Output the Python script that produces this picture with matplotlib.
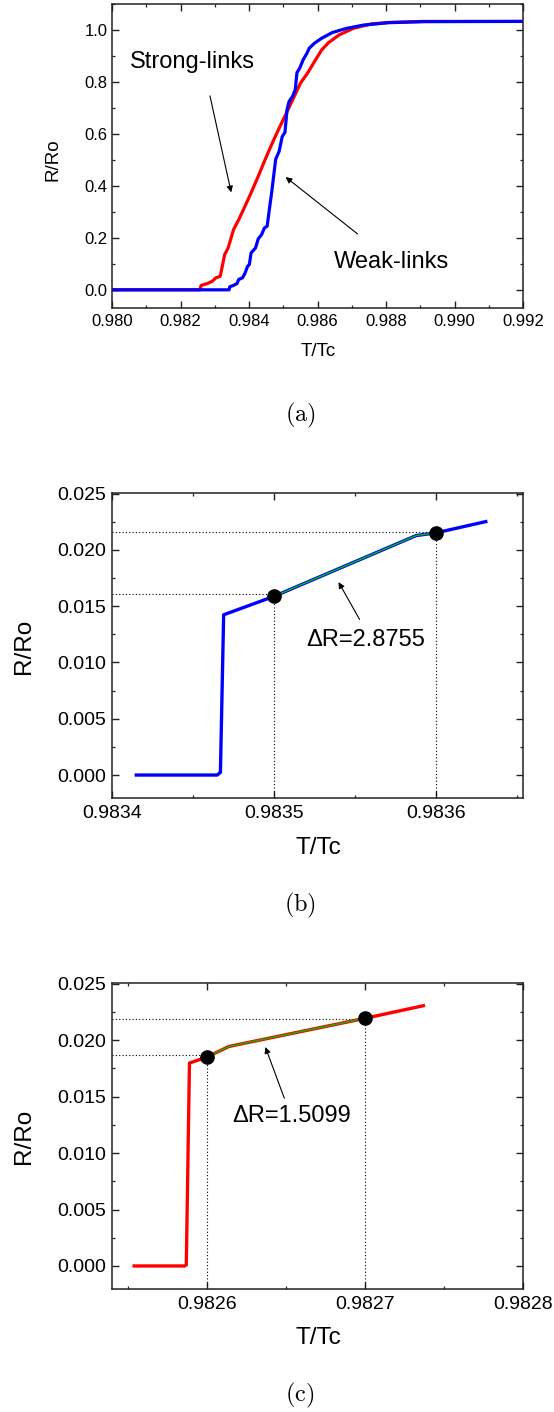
import matplotlib
matplotlib.use("Agg")
import matplotlib.pyplot as plt
from matplotlib.ticker import MultipleLocator, FormatStrFormatter

plt.rcParams['font.family'] = ['Liberation Sans', 'DejaVu Sans']
plt.rcParams['mathtext.fontset'] = 'cm'

# ---------------- data ----------------
# (a) full transition, strong links (red) and weak links (blue)
strong_t = [0.9800, 0.98257, 0.98260, 0.98278, 0.98293, 0.98303, 0.98316, 0.98322,
            0.98329, 0.98339, 0.98355, 0.98370, 0.98386, 0.98406, 0.98427, 0.98447,
            0.98468, 0.98488, 0.98509, 0.98530, 0.98550, 0.98571, 0.98591, 0.98612,
            0.98632, 0.98663, 0.98704, 0.98756, 0.98807, 0.98910, 0.9920]
strong_r = [0.0, 0.0, 0.017, 0.024, 0.033, 0.046, 0.052, 0.091,
            0.136, 0.161, 0.232, 0.270, 0.315, 0.373, 0.437, 0.501,
            0.565, 0.622, 0.680, 0.738, 0.795, 0.834, 0.878, 0.923,
            0.951, 0.981, 1.006, 1.023, 1.029, 1.033, 1.033]

weak_t = [0.9800, 0.98342, 0.98344, 0.98355, 0.98365, 0.98370, 0.98381, 0.98388,
          0.98396, 0.98401, 0.98406, 0.98419, 0.98427, 0.98437, 0.98445, 0.98453,
          0.98460, 0.98466, 0.98473, 0.98478, 0.98488, 0.98497, 0.98505, 0.98511,
          0.98517, 0.98527, 0.98535, 0.98540, 0.98548, 0.98558, 0.98569, 0.98576,
          0.98591, 0.98612, 0.98643, 0.98684, 0.98735, 0.98807, 0.98910, 0.9920]
weak_r = [0.0, 0.0, 0.012, 0.017, 0.024, 0.040, 0.046, 0.063,
          0.091, 0.097, 0.142, 0.161, 0.196, 0.213, 0.238, 0.245,
          0.315, 0.373, 0.449, 0.503, 0.533, 0.590, 0.606, 0.693,
          0.725, 0.744, 0.770, 0.836, 0.853, 0.885, 0.910, 0.930,
          0.949, 0.968, 0.990, 1.006, 1.019, 1.028, 1.032, 1.033]

# (b) onset of the weak-link transition
weak_onset_t = [0.983415, 0.983465, 0.983467, 0.983469, 0.983500, 0.983588, 0.983600, 0.983631]
weak_onset_r = [0.0, 0.0, 0.00024, 0.01424, 0.01587, 0.02128, 0.02151, 0.02252]
weak_fit_t = [0.983500, 0.983588, 0.983600]
weak_fit_r = [0.01587, 0.02128, 0.02151]
weak_dots_t = [0.98350, 0.98360]
weak_dots_r = [0.01587, 0.02151]
weak_guides_r = [0.01607, 0.02163]
weak_delta = "ΔR=2.8755"

# (c) onset of the strong-link transition
strong_onset_t = [0.982554, 0.982586, 0.982587, 0.982589, 0.982600, 0.982614, 0.982700, 0.982737]
strong_onset_r = [0.0, 0.0, 0.0001, 0.01797, 0.01850, 0.01944, 0.02193, 0.02305]
strong_fit_t = [0.982600, 0.982614, 0.982700]
strong_fit_r = [0.01850, 0.01944, 0.02193]
strong_dots_t = [0.98260, 0.98270]
strong_dots_r = [0.01850, 0.02193]
strong_guides_r = [0.01868, 0.02187]
strong_delta = "ΔR=1.5099"

RED = '#ff0000'
BLUE = '#0000ff'
GREEN = '#00c000'

W, H = 554, 1412
fig = plt.figure(figsize=(W / 100, H / 100), dpi=100)


def px_axes(left, top, right, bottom):
    return fig.add_axes([left / W, 1 - bottom / H, (right - left) / W, (bottom - top) / H])


def style_axes(ax, xmaj, xmin, ymaj, ymin, xfmt, yfmt, fs, xpad, ypad):
    for s in ax.spines.values():
        s.set_linewidth(1.1)
        s.set_color('#222222')
    ax.xaxis.set_major_locator(MultipleLocator(xmaj))
    ax.xaxis.set_minor_locator(MultipleLocator(xmin))
    ax.yaxis.set_major_locator(MultipleLocator(ymaj))
    ax.yaxis.set_minor_locator(MultipleLocator(ymin))
    ax.xaxis.set_major_formatter(FormatStrFormatter(xfmt))
    ax.yaxis.set_major_formatter(FormatStrFormatter(yfmt))
    ax.tick_params(which='major', direction='in', length=5, width=1.0,
                   labelsize=fs, color='#222222')
    ax.tick_params(which='minor', direction='in', length=2.5, width=0.9, color='#222222')
    ax.tick_params(axis='x', which='major', pad=xpad)
    ax.tick_params(axis='y', which='major', pad=ypad)
    ax.tick_params(which='both', top=True, right=True)


def fig_label(x, y, s, size, rotation=0):
    fig.text(x / W, 1 - y / H, s, ha='center', va='center', fontsize=size, rotation=rotation)


def caption(y, s):
    fig.text(300 / W, 1 - y / H, r'$\mathrm{' + s + '}$', ha='center', va='center', fontsize=17.5)


# ---------------- (a) ----------------
ax_a = px_axes(112, 4, 523, 308)
ax_a.plot(strong_t, strong_r, color=RED, lw=2.3, solid_joinstyle='round')
ax_a.plot(weak_t, weak_r, color=BLUE, lw=2.3, solid_joinstyle='round')
ax_a.set_xlim(0.980, 0.992)
ax_a.set_ylim(-0.07, 1.10)
style_axes(ax_a, 0.002, 0.001, 0.2, 0.1, '%.3f', '%.1f', 12, 4, 3)
ax_a.text(0.98051, 0.878, 'Strong-links', fontsize=17, va='center', ha='left')
ax_a.text(0.98648, 0.1076, 'Weak-links', fontsize=17, va='center', ha='left')
arrow = dict(arrowstyle='-|>', color='black', lw=0.8, mutation_scale=9, shrinkA=0, shrinkB=0)
ax_a.annotate('', xy=(0.98348, 0.375), xytext=(0.98286, 0.7465), arrowprops=arrow)
ax_a.annotate('', xy=(0.98507, 0.434), xytext=(0.98717, 0.215), arrowprops=arrow)
fig_label(53, 160, 'R/Ro', 13.5, rotation=90)
fig_label(318, 352, 'T/Tc', 13.5)
caption(415, '(a)')


def onset_panel(ax, t, r, fit_t, fit_r, dots_t, dots_r, guides_r, color, xlim):
    ax.set_xlim(*xlim)
    ax.set_ylim(-0.00204, 0.02506)
    ax.plot(t, r, color=color, lw=2.4, solid_joinstyle='round', zorder=3)
    ax.plot(fit_t, fit_r, color=GREEN, lw=1.0, zorder=4)
    ax.hlines(guides_r, xlim[0], dots_t, colors='black', linestyles=(0, (1, 2)), lw=0.8, zorder=2)
    ax.vlines(dots_t, -0.00204, dots_r, colors='black', linestyles=(0, (1, 2)), lw=0.8, zorder=2)
    ax.plot(dots_t, dots_r, 'o', color='black', ms=9.5, zorder=5)
    style_axes(ax, 0.0001, 0.00005, 0.005, 0.0025, '%.4f', '%.3f', 14, 5, 4.5)


# ---------------- (b) ----------------
ax_b = px_axes(112, 493, 523, 798)
onset_panel(ax_b, weak_onset_t, weak_onset_r, weak_fit_t, weak_fit_r,
            weak_dots_t, weak_dots_r, weak_guides_r, BLUE, (0.9834, 0.983654))
ax_b.annotate('', xy=(0.98354, 0.01714), xytext=(0.983553, 0.01383), arrowprops=arrow)
ax_b.text(0.98352, 0.01197, weak_delta, fontsize=17, va='center', ha='left')
fig_label(24, 646, 'R/Ro', 17.5, rotation=90)
fig_label(318, 848, 'T/Tc', 17.5)
caption(905, '(b)')

# ---------------- (c) ----------------
ax_c = px_axes(112, 983, 523, 1289)
onset_panel(ax_c, strong_onset_t, strong_onset_r, strong_fit_t, strong_fit_r,
            strong_dots_t, strong_dots_r, strong_guides_r, RED, (0.98254, 0.9828))
ax_c.annotate('', xy=(0.982637, 0.01939), xytext=(0.982649, 0.01486), arrowprops=arrow)
ax_c.text(0.982616, 0.01324, strong_delta, fontsize=17, va='center', ha='left')
fig_label(24, 1136, 'R/Ro', 17.5, rotation=90)
fig_label(318, 1338, 'T/Tc', 17.5)
caption(1395, '(c)')

fig.savefig('out.png', dpi=100)
